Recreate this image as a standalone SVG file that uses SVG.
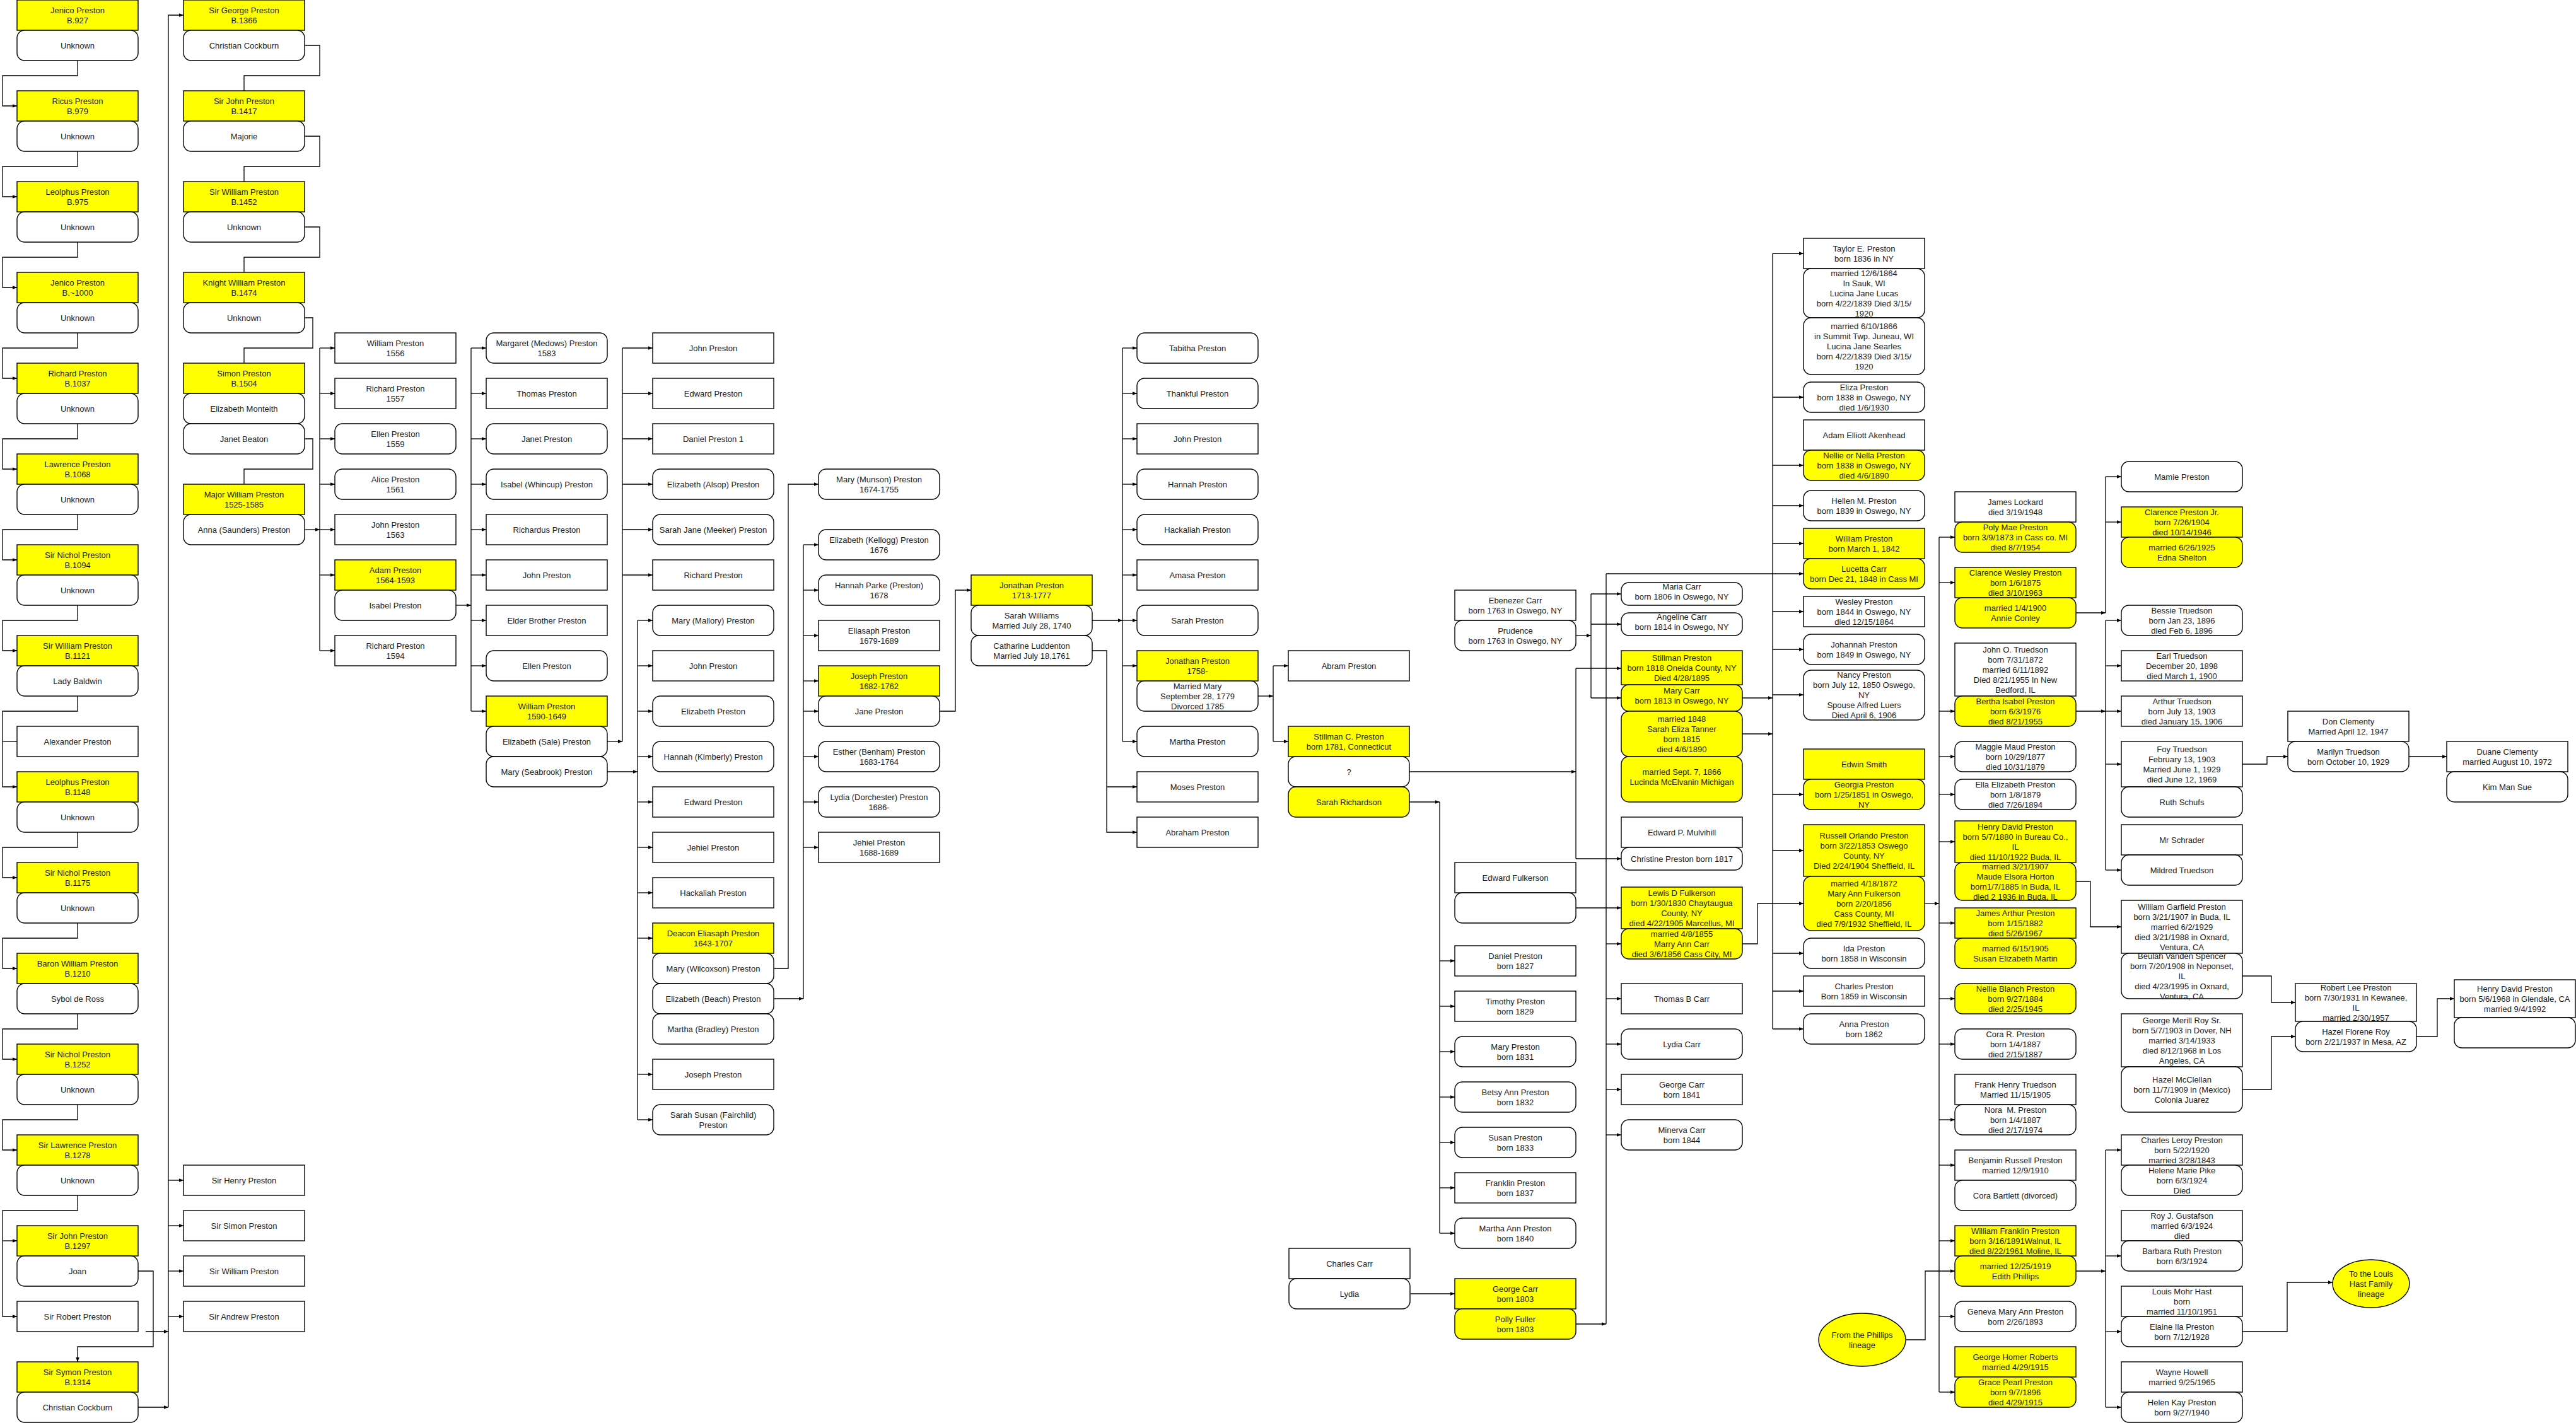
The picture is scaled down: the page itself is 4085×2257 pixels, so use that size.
<svg xmlns="http://www.w3.org/2000/svg" width="4085" height="2257" viewBox="0 0 4085 2257">
<defs>
<marker id="ah" viewBox="0 0 10 10" refX="10" refY="5" markerWidth="7" markerHeight="7" markerUnits="userSpaceOnUse" orient="auto"><path d="M0,1 L10,5 L0,9 z" fill="#000"/></marker>
<style>
.y,.w{stroke:#000;stroke-width:1.4}
.y{fill:#ffff00}
.w{fill:#fff}
text{font-family:"Liberation Sans",Arial,sans-serif;font-size:13px;fill:#1a1a1a;text-anchor:middle}
.c{fill:none;stroke:#000;stroke-width:1.3;marker-end:url(#ah)}
.l{fill:none;stroke:#000;stroke-width:1.3}
</style>
</defs>
<rect x="0" y="0" width="4085" height="2257" fill="#fff"/>

<g id="connectors">
<path class="c" d="M123,96 V120 H4 V168 H27"/>
<path class="c" d="M123,240 V264 H4 V312 H27"/>
<path class="c" d="M123,384 V408 H4 V456 H27"/>
<path class="c" d="M123,528 V552 H4 V600 H27"/>
<path class="c" d="M123,672 V696 H4 V744 H27"/>
<path class="c" d="M123,816 V840 H4 V888 H27"/>
<path class="c" d="M123,960 V984 H4 V1032 H27"/>
<path class="c" d="M123,1104 V1128 H4 V1248 H27"/>
<path class="l" d="M4,1176 H27"/>
<path class="c" d="M123,1320 V1344 H4 V1392 H27"/>
<path class="c" d="M123,1464 V1488 H4 V1536 H27"/>
<path class="c" d="M123,1608 V1632 H4 V1680 H27"/>
<path class="c" d="M123,1752 V1776 H4 V1824 H27"/>
<path class="c" d="M123,1896 V1920 H4 V2088 H27"/>
<path class="c" d="M4,1968 H27"/>
<path class="c" d="M219,2016 H243 V2136 H123 V2160"/>
<path class="c" d="M231,2112 H267"/>
<path class="c" d="M219,2232 H267"/>
<path class="c" d="M267,2232 V24 H291"/>
<path class="c" d="M267,1872 H291"/>
<path class="c" d="M267,1944 H291"/>
<path class="c" d="M267,2016 H291"/>
<path class="c" d="M267,2088 H291"/>
<path class="l" d="M483,72 H507 V120 H387 V144"/>
<path class="l" d="M483,216 H507 V264 H387 V288"/>
<path class="l" d="M483,360 H507 V408 H387 V432"/>
<path class="l" d="M483,504 H496 V552 H387 V576"/>
<path class="l" d="M483,696 H496 V744 H387 V768"/>
<path class="c" d="M483,840 H507"/>
<path class="l" d="M507,552 V1032"/>
<path class="c" d="M507,552 H531"/><path class="c" d="M507,624 H531"/><path class="c" d="M507,696 H531"/><path class="c" d="M507,768 H531"/><path class="c" d="M507,840 H531"/><path class="c" d="M507,912 H531"/><path class="c" d="M507,1032 H531"/>
<path class="c" d="M723,960 H747"/>
<path class="l" d="M747,552 V1128"/>
<path class="c" d="M747,552 H771"/><path class="c" d="M747,624 H771"/><path class="c" d="M747,696 H771"/><path class="c" d="M747,768 H771"/><path class="c" d="M747,840 H771"/><path class="c" d="M747,912 H771"/><path class="c" d="M747,984 H771"/><path class="c" d="M747,1056 H771"/><path class="c" d="M747,1128 H771"/>
<path class="c" d="M963,1176 H987"/>
<path class="l" d="M987,552 V1176"/>
<path class="c" d="M987,552 H1035"/><path class="c" d="M987,624 H1035"/><path class="c" d="M987,696 H1035"/><path class="c" d="M987,768 H1035"/><path class="c" d="M987,840 H1035"/><path class="c" d="M987,912 H1035"/>
<path class="c" d="M963,1224 H1011"/>
<path class="l" d="M1011,984 V1776"/>
<path class="c" d="M1011,984 H1035"/><path class="c" d="M1011,1056 H1035"/><path class="c" d="M1011,1128 H1035"/><path class="c" d="M1011,1200 H1035"/><path class="c" d="M1011,1272 H1035"/><path class="c" d="M1011,1344 H1035"/><path class="c" d="M1011,1416 H1035"/><path class="c" d="M1011,1488 H1035"/><path class="c" d="M1011,1704 H1035"/><path class="c" d="M1011,1776 H1035"/>
<path class="c" d="M1227,1536 H1250 V768 H1298"/>
<path class="c" d="M1227,1584 H1274"/>
<path class="l" d="M1274,864 V1584"/>
<path class="c" d="M1274,864 H1298"/><path class="c" d="M1274,936 H1298"/><path class="c" d="M1274,1008 H1298"/><path class="c" d="M1274,1080 H1298"/><path class="c" d="M1274,1128 H1298"/><path class="c" d="M1274,1200 H1298"/><path class="c" d="M1274,1272 H1298"/><path class="c" d="M1274,1344 H1298"/>
<path class="c" d="M1490,1128 H1515 V936 H1540"/>
<path class="c" d="M1732,984 H1780"/>
<path class="l" d="M1780,552 V1176"/>
<path class="c" d="M1780,552 H1803"/><path class="c" d="M1780,624 H1803"/><path class="c" d="M1780,696 H1803"/><path class="c" d="M1780,768 H1803"/><path class="c" d="M1780,840 H1803"/><path class="c" d="M1780,912 H1803"/><path class="c" d="M1780,984 H1803"/><path class="c" d="M1780,1056 H1803"/><path class="c" d="M1780,1176 H1803"/>
<path class="c" d="M1732,1032 H1755 V1320 H1803"/>
<path class="c" d="M1755,1248 H1803"/>
<path class="c" d="M1995,1104 H2019"/>
<path class="l" d="M2019,1056 V1176"/>
<path class="c" d="M2019,1056 H2043"/><path class="c" d="M2019,1176 H2043"/>
<path class="c" d="M2235,1224 H2499"/>
<path class="l" d="M2499,1060 V1362"/>
<path class="c" d="M2499,1060 H2571"/><path class="c" d="M2499,1362 H2571"/>
<path class="c" d="M2235,1272 H2283"/>
<path class="l" d="M2283,1272 V1956"/>
<path class="c" d="M2283,1524 H2307"/><path class="c" d="M2283,1596 H2307"/><path class="c" d="M2283,1668 H2307"/><path class="c" d="M2283,1740 H2307"/><path class="c" d="M2283,1812 H2307"/><path class="c" d="M2283,1884 H2307"/><path class="c" d="M2283,1956 H2307"/>
<path class="c" d="M2237,2052 H2307"/>
<path class="c" d="M2499,1008 H2523"/>
<path class="l" d="M2523,942 V1107"/>
<path class="c" d="M2523,942 H2571"/><path class="c" d="M2523,990 H2571"/><path class="c" d="M2523,1107 H2571"/>
<path class="c" d="M2499,1440 H2571"/>
<path class="c" d="M2499,2100 H2547"/>
<path class="l" d="M2547,910 V2100"/>
<path class="c" d="M2547,910 H2860"/>
<path class="c" d="M2547,1497 H2571"/><path class="c" d="M2547,1584 H2571"/><path class="c" d="M2547,1656 H2571"/><path class="c" d="M2547,1728 H2571"/><path class="c" d="M2547,1800 H2571"/>
<path class="c" d="M2763,1107 H2811"/>
<path class="c" d="M2763,1164 H2811"/>
<path class="l" d="M2811,402 V1632"/>
<path class="c" d="M2811,402 H2860"/><path class="c" d="M2811,630 H2860"/><path class="c" d="M2811,738 H2860"/><path class="c" d="M2811,802 H2860"/><path class="c" d="M2811,862 H2860"/><path class="c" d="M2811,970 H2860"/><path class="c" d="M2811,1030 H2860"/><path class="c" d="M2811,1102 H2860"/><path class="c" d="M2811,1260 H2860"/><path class="c" d="M2811,1349 H2860"/><path class="c" d="M2811,1512 H2860"/><path class="c" d="M2811,1572 H2860"/><path class="c" d="M2811,1632 H2860"/>
<path class="c" d="M2763,1497 H2787 V1433 H2860"/>
<path class="c" d="M3052,1433 H3075"/>
<path class="l" d="M3075,852 V2208"/>
<path class="c" d="M3075,852 H3100"/><path class="c" d="M3075,924 H3100"/><path class="c" d="M3075,1128 H3100"/><path class="c" d="M3075,1200 H3100"/><path class="c" d="M3075,1260 H3100"/><path class="c" d="M3075,1335 H3100"/><path class="c" d="M3075,1464 H3100"/><path class="c" d="M3075,1584 H3100"/><path class="c" d="M3075,1656 H3100"/><path class="c" d="M3075,1776 H3100"/><path class="c" d="M3075,1848 H3100"/><path class="c" d="M3075,1968 H3100"/><path class="c" d="M3075,2088 H3100"/><path class="c" d="M3075,2208 H3100"/>
<path class="c" d="M3022,2125 H3053 V2016 H3100"/>
<path class="c" d="M3292,972 H3339"/>
<path class="l" d="M3339,756 V972"/>
<path class="c" d="M3339,756 H3364"/><path class="c" d="M3339,828 H3364"/>
<path class="c" d="M3292,1128 H3339"/>
<path class="l" d="M3339,984 V1380"/>
<path class="c" d="M3339,984 H3364"/><path class="c" d="M3339,1056 H3364"/><path class="c" d="M3339,1128 H3364"/><path class="c" d="M3339,1212 H3364"/><path class="c" d="M3339,1380 H3364"/>
<path class="c" d="M3292,1398 H3315 V1470 H3364"/>
<path class="c" d="M3292,2016 H3339"/>
<path class="l" d="M3339,1824 V2232"/>
<path class="c" d="M3339,1824 H3364"/><path class="c" d="M3339,1992 H3364"/><path class="c" d="M3339,2112 H3364"/><path class="c" d="M3339,2232 H3364"/>
<path class="c" d="M3556,1212 H3595 V1200 H3628"/>
<path class="c" d="M3556,1548 H3602 V1590 H3640"/>
<path class="c" d="M3556,1728 H3602 V1644 H3640"/>
<path class="c" d="M3556,2112 H3627 V2034 H3699"/>
<path class="c" d="M3820,1200 H3880"/>
<path class="c" d="M3832,1644 H3865 V1584 H3892"/>
</g>

<g id="jenico927"><rect class="y" x="27" y="0" width="192" height="48"/><text x="123" y="20.5">Jenico Preston<tspan x="123" dy="16">B.927</tspan></text></g>
<g id="jenico927-sp"><rect class="w" x="27" y="48" width="192" height="48" rx="12"/><text x="123" y="76.5">Unknown</text></g>
<g id="ricus979"><rect class="y" x="27" y="144" width="192" height="48"/><text x="123" y="164.5">Ricus Preston<tspan x="123" dy="16">B.979</tspan></text></g>
<g id="ricus979-sp"><rect class="w" x="27" y="192" width="192" height="48" rx="12"/><text x="123" y="220.5">Unknown</text></g>
<g id="leolphus975"><rect class="y" x="27" y="288" width="192" height="48"/><text x="123" y="308.5">Leolphus Preston<tspan x="123" dy="16">B.975</tspan></text></g>
<g id="leolphus975-sp"><rect class="w" x="27" y="336" width="192" height="48" rx="12"/><text x="123" y="364.5">Unknown</text></g>
<g id="jenico1000"><rect class="y" x="27" y="432" width="192" height="48"/><text x="123" y="452.5">Jenico Preston<tspan x="123" dy="16">B.~1000</tspan></text></g>
<g id="jenico1000-sp"><rect class="w" x="27" y="480" width="192" height="48" rx="12"/><text x="123" y="508.5">Unknown</text></g>
<g id="richard1037"><rect class="y" x="27" y="576" width="192" height="48"/><text x="123" y="596.5">Richard Preston<tspan x="123" dy="16">B.1037</tspan></text></g>
<g id="richard1037-sp"><rect class="w" x="27" y="624" width="192" height="48" rx="12"/><text x="123" y="652.5">Unknown</text></g>
<g id="lawrence1068"><rect class="y" x="27" y="720" width="192" height="48"/><text x="123" y="740.5">Lawrence Preston<tspan x="123" dy="16">B.1068</tspan></text></g>
<g id="lawrence1068-sp"><rect class="w" x="27" y="768" width="192" height="48" rx="12"/><text x="123" y="796.5">Unknown</text></g>
<g id="nichol1094"><rect class="y" x="27" y="864" width="192" height="48"/><text x="123" y="884.5">Sir Nichol Preston<tspan x="123" dy="16">B.1094</tspan></text></g>
<g id="nichol1094-sp"><rect class="w" x="27" y="912" width="192" height="48" rx="12"/><text x="123" y="940.5">Unknown</text></g>
<g id="william1121"><rect class="y" x="27" y="1008" width="192" height="48"/><text x="123" y="1028.5">Sir William Preston<tspan x="123" dy="16">B.1121</tspan></text></g>
<g id="william1121-sp"><rect class="w" x="27" y="1056" width="192" height="48" rx="12"/><text x="123" y="1084.5">Lady Baldwin</text></g>
<g id="alexander"><rect class="w" x="27" y="1152" width="192" height="48"/><text x="123" y="1180.5">Alexander Preston</text></g>
<g id="leolphus1148"><rect class="y" x="27" y="1224" width="192" height="48"/><text x="123" y="1244.5">Leolphus Preston<tspan x="123" dy="16">B.1148</tspan></text></g>
<g id="leolphus1148-sp"><rect class="w" x="27" y="1272" width="192" height="48" rx="12"/><text x="123" y="1300.5">Unknown</text></g>
<g id="nichol1175"><rect class="y" x="27" y="1368" width="192" height="48"/><text x="123" y="1388.5">Sir Nichol Preston<tspan x="123" dy="16">B.1175</tspan></text></g>
<g id="nichol1175-sp"><rect class="w" x="27" y="1416" width="192" height="48" rx="12"/><text x="123" y="1444.5">Unknown</text></g>
<g id="baron1210"><rect class="y" x="27" y="1512" width="192" height="48"/><text x="123" y="1532.5">Baron William Preston<tspan x="123" dy="16">B.1210</tspan></text></g>
<g id="baron1210-sp"><rect class="w" x="27" y="1560" width="192" height="48" rx="12"/><text x="123" y="1588.5">Sybol de Ross</text></g>
<g id="nichol1252"><rect class="y" x="27" y="1656" width="192" height="48"/><text x="123" y="1676.5">Sir Nichol Preston<tspan x="123" dy="16">B.1252</tspan></text></g>
<g id="nichol1252-sp"><rect class="w" x="27" y="1704" width="192" height="48" rx="12"/><text x="123" y="1732.5">Unknown</text></g>
<g id="lawrence1278"><rect class="y" x="27" y="1800" width="192" height="48"/><text x="123" y="1820.5">Sir Lawrence Preston<tspan x="123" dy="16">B.1278</tspan></text></g>
<g id="lawrence1278-sp"><rect class="w" x="27" y="1848" width="192" height="48" rx="12"/><text x="123" y="1876.5">Unknown</text></g>
<g id="john1297"><rect class="y" x="27" y="1944" width="192" height="48"/><text x="123" y="1964.5">Sir John Preston<tspan x="123" dy="16">B.1297</tspan></text></g>
<g id="john1297-sp"><rect class="w" x="27" y="1992" width="192" height="48" rx="12"/><text x="123" y="2020.5">Joan</text></g>
<g id="robert"><rect class="w" x="27" y="2064" width="192" height="48"/><text x="123" y="2092.5">Sir Robert Preston</text></g>
<g id="symon1314"><rect class="y" x="27" y="2160" width="192" height="48"/><text x="123" y="2180.5">Sir Symon Preston<tspan x="123" dy="16">B.1314</tspan></text></g>
<g id="symon1314-sp"><rect class="w" x="27" y="2208" width="192" height="48" rx="12"/><text x="123" y="2236.5">Christian Cockburn</text></g>

<g id="george1366"><rect class="y" x="291" y="0" width="192" height="48"/><text x="387" y="20.5">Sir George Preston<tspan x="387" dy="16">B.1366</tspan></text></g>
<g id="george1366-sp"><rect class="w" x="291" y="48" width="192" height="48" rx="12"/><text x="387" y="76.5">Christian Cockburn</text></g>
<g id="john1417"><rect class="y" x="291" y="144" width="192" height="48"/><text x="387" y="164.5">Sir John Preston<tspan x="387" dy="16">B.1417</tspan></text></g>
<g id="john1417-sp"><rect class="w" x="291" y="192" width="192" height="48" rx="12"/><text x="387" y="220.5">Majorie</text></g>
<g id="william1452"><rect class="y" x="291" y="288" width="192" height="48"/><text x="387" y="308.5">Sir William Preston<tspan x="387" dy="16">B.1452</tspan></text></g>
<g id="william1452-sp"><rect class="w" x="291" y="336" width="192" height="48" rx="12"/><text x="387" y="364.5">Unknown</text></g>
<g id="knight1474"><rect class="y" x="291" y="432" width="192" height="48"/><text x="387" y="452.5">Knight William Preston<tspan x="387" dy="16">B.1474</tspan></text></g>
<g id="knight1474-sp"><rect class="w" x="291" y="480" width="192" height="48" rx="12"/><text x="387" y="508.5">Unknown</text></g>
<g id="simon1504"><rect class="y" x="291" y="576" width="192" height="48"/><text x="387" y="596.5">Simon Preston<tspan x="387" dy="16">B.1504</tspan></text></g>
<g id="simon1504-sp1"><rect class="w" x="291" y="624" width="192" height="48" rx="12"/><text x="387" y="652.5">Elizabeth Monteith</text></g>
<g id="simon1504-sp2"><rect class="w" x="291" y="672" width="192" height="48" rx="12"/><text x="387" y="700.5">Janet Beaton</text></g>
<g id="major1525"><rect class="y" x="291" y="768" width="192" height="48"/><text x="387" y="788.5">Major William Preston<tspan x="387" dy="16">1525-1585</tspan></text></g>
<g id="major1525-sp"><rect class="w" x="291" y="816" width="192" height="48" rx="12"/><text x="387" y="844.5">Anna (Saunders) Preston</text></g>
<g id="henry"><rect class="w" x="291" y="1848" width="192" height="48"/><text x="387" y="1876.5">Sir Henry Preston</text></g>
<g id="simon"><rect class="w" x="291" y="1920" width="192" height="48"/><text x="387" y="1948.5">Sir Simon Preston</text></g>
<g id="williamS"><rect class="w" x="291" y="1992" width="192" height="48"/><text x="387" y="2020.5">Sir William Preston</text></g>
<g id="andrew"><rect class="w" x="291" y="2064" width="192" height="48"/><text x="387" y="2092.5">Sir Andrew Preston</text></g>

<g id="william1556"><rect class="w" x="531" y="528" width="192" height="48"/><text x="627" y="548.5">William Preston<tspan x="627" dy="16">1556</tspan></text></g>
<g id="richard1557"><rect class="w" x="531" y="600" width="192" height="48"/><text x="627" y="620.5">Richard Preston<tspan x="627" dy="16">1557</tspan></text></g>
<g id="ellen1559"><rect class="w" x="531" y="672" width="192" height="48" rx="12"/><text x="627" y="692.5">Ellen Preston<tspan x="627" dy="16">1559</tspan></text></g>
<g id="alice1561"><rect class="w" x="531" y="744" width="192" height="48" rx="12"/><text x="627" y="764.5">Alice Preston<tspan x="627" dy="16">1561</tspan></text></g>
<g id="john1563"><rect class="w" x="531" y="816" width="192" height="48"/><text x="627" y="836.5">John Preston<tspan x="627" dy="16">1563</tspan></text></g>
<g id="adam1564"><rect class="y" x="531" y="888" width="192" height="48"/><text x="627" y="908.5">Adam Preston<tspan x="627" dy="16">1564-1593</tspan></text></g>
<g id="adam1564-sp"><rect class="w" x="531" y="936" width="192" height="48" rx="12"/><text x="627" y="964.5">Isabel Preston</text></g>
<g id="richard1594"><rect class="w" x="531" y="1008" width="192" height="48"/><text x="627" y="1028.5">Richard Preston<tspan x="627" dy="16">1594</tspan></text></g>

<g id="margaret1583"><rect class="w" x="771" y="528" width="192" height="48" rx="12"/><text x="867" y="548.5">Margaret (Medows) Preston<tspan x="867" dy="16">1583</tspan></text></g>
<g id="thomas3"><rect class="w" x="771" y="600" width="192" height="48"/><text x="867" y="628.5">Thomas Preston</text></g>
<g id="janet3"><rect class="w" x="771" y="672" width="192" height="48" rx="12"/><text x="867" y="700.5">Janet Preston</text></g>
<g id="isabelw"><rect class="w" x="771" y="744" width="192" height="48" rx="12"/><text x="867" y="772.5">Isabel (Whincup) Preston</text></g>
<g id="richardus"><rect class="w" x="771" y="816" width="192" height="48"/><text x="867" y="844.5">Richardus Preston</text></g>
<g id="john3"><rect class="w" x="771" y="888" width="192" height="48"/><text x="867" y="916.5">John Preston</text></g>
<g id="elder"><rect class="w" x="771" y="960" width="192" height="48"/><text x="867" y="988.5">Elder Brother Preston</text></g>
<g id="ellen3"><rect class="w" x="771" y="1032" width="192" height="48" rx="12"/><text x="867" y="1060.5">Ellen Preston</text></g>
<g id="william1590"><rect class="y" x="771" y="1104" width="192" height="48"/><text x="867" y="1124.5">William Preston<tspan x="867" dy="16">1590-1649</tspan></text></g>
<g id="william1590-sp1"><rect class="w" x="771" y="1152" width="192" height="48" rx="12"/><text x="867" y="1180.5">Elizabeth (Sale) Preston</text></g>
<g id="william1590-sp2"><rect class="w" x="771" y="1200" width="192" height="48" rx="12"/><text x="867" y="1228.5">Mary (Seabrook) Preston</text></g>

<g id="john4a"><rect class="w" x="1035" y="528" width="192" height="48"/><text x="1131" y="556.5">John Preston</text></g>
<g id="edward4a"><rect class="w" x="1035" y="600" width="192" height="48"/><text x="1131" y="628.5">Edward Preston</text></g>
<g id="daniel4"><rect class="w" x="1035" y="672" width="192" height="48"/><text x="1131" y="700.5">Daniel Preston 1</text></g>
<g id="elizabeth-alsop"><rect class="w" x="1035" y="744" width="192" height="48" rx="12"/><text x="1131" y="772.5">Elizabeth (Alsop) Preston</text></g>
<g id="sarah-meeker"><rect class="w" x="1035" y="816" width="192" height="48" rx="12"/><text x="1131" y="844.5">Sarah Jane (Meeker) Preston</text></g>
<g id="richard4"><rect class="w" x="1035" y="888" width="192" height="48"/><text x="1131" y="916.5">Richard Preston</text></g>
<g id="mary-mallory"><rect class="w" x="1035" y="960" width="192" height="48" rx="12"/><text x="1131" y="988.5">Mary (Mallory) Preston</text></g>
<g id="john4b"><rect class="w" x="1035" y="1032" width="192" height="48"/><text x="1131" y="1060.5">John Preston</text></g>
<g id="elizabeth4"><rect class="w" x="1035" y="1104" width="192" height="48" rx="12"/><text x="1131" y="1132.5">Elizabeth Preston</text></g>
<g id="hannah-kimberly"><rect class="w" x="1035" y="1176" width="192" height="48" rx="12"/><text x="1131" y="1204.5">Hannah (Kimberly) Preston</text></g>
<g id="edward4b"><rect class="w" x="1035" y="1248" width="192" height="48"/><text x="1131" y="1276.5">Edward Preston</text></g>
<g id="jehiel4"><rect class="w" x="1035" y="1320" width="192" height="48"/><text x="1131" y="1348.5">Jehiel Preston</text></g>
<g id="hackaliah4"><rect class="w" x="1035" y="1392" width="192" height="48"/><text x="1131" y="1420.5">Hackaliah Preston</text></g>
<g id="deacon1643"><rect class="y" x="1035" y="1464" width="192" height="48"/><text x="1131" y="1484.5">Deacon Eliasaph Preston<tspan x="1131" dy="16">1643-1707</tspan></text></g>
<g id="deacon-sp1"><rect class="w" x="1035" y="1512" width="192" height="48" rx="12"/><text x="1131" y="1540.5">Mary (Wilcoxson) Preston</text></g>
<g id="deacon-sp2"><rect class="w" x="1035" y="1560" width="192" height="48" rx="12"/><text x="1131" y="1588.5">Elizabeth (Beach) Preston</text></g>
<g id="deacon-sp3"><rect class="w" x="1035" y="1608" width="192" height="48" rx="12"/><text x="1131" y="1636.5">Martha (Bradley) Preston</text></g>
<g id="joseph4"><rect class="w" x="1035" y="1680" width="192" height="48"/><text x="1131" y="1708.5">Joseph Preston</text></g>
<g id="sarah-fairchild"><rect class="w" x="1035" y="1752" width="192" height="48" rx="12"/><text x="1131" y="1772.5">Sarah Susan (Fairchild)<tspan x="1131" dy="16">Preston</tspan></text></g>

<g id="mary-munson"><rect class="w" x="1298" y="744" width="192" height="48" rx="12"/><text x="1394" y="764.5">Mary (Munson) Preston<tspan x="1394" dy="16">1674-1755</tspan></text></g>
<g id="elizabeth-kellogg"><rect class="w" x="1298" y="840" width="192" height="48" rx="12"/><text x="1394" y="860.5">Elizabeth (Kellogg) Preston<tspan x="1394" dy="16">1676</tspan></text></g>
<g id="hannah-parke"><rect class="w" x="1298" y="912" width="192" height="48" rx="12"/><text x="1394" y="932.5">Hannah Parke (Preston)<tspan x="1394" dy="16">1678</tspan></text></g>
<g id="eliasaph1679"><rect class="w" x="1298" y="984" width="192" height="48"/><text x="1394" y="1004.5">Eliasaph Preston<tspan x="1394" dy="16">1679-1689</tspan></text></g>
<g id="joseph1682"><rect class="y" x="1298" y="1056" width="192" height="48"/><text x="1394" y="1076.5">Joseph Preston<tspan x="1394" dy="16">1682-1762</tspan></text></g>
<g id="joseph1682-sp"><rect class="w" x="1298" y="1104" width="192" height="48" rx="12"/><text x="1394" y="1132.5">Jane Preston</text></g>
<g id="esther-benham"><rect class="w" x="1298" y="1176" width="192" height="48" rx="12"/><text x="1394" y="1196.5">Esther (Benham) Preston<tspan x="1394" dy="16">1683-1764</tspan></text></g>
<g id="lydia-dorchester"><rect class="w" x="1298" y="1248" width="192" height="48" rx="12"/><text x="1394" y="1268.5">Lydia (Dorchester) Preston<tspan x="1394" dy="16">1686-</tspan></text></g>
<g id="jehiel1688"><rect class="w" x="1298" y="1320" width="192" height="48"/><text x="1394" y="1340.5">Jehiel Preston<tspan x="1394" dy="16">1688-1689</tspan></text></g>

<g id="jonathan1713"><rect class="y" x="1540" y="912" width="192" height="48"/><text x="1636" y="932.5">Jonathan Preston<tspan x="1636" dy="16">1713-1777</tspan></text></g>
<g id="jonathan1713-sp1"><rect class="w" x="1540" y="960" width="192" height="48" rx="12"/><text x="1636" y="980.5">Sarah Williams<tspan x="1636" dy="16">Married July 28, 1740</tspan></text></g>
<g id="jonathan1713-sp2"><rect class="w" x="1540" y="1008" width="192" height="48" rx="12"/><text x="1636" y="1028.5">Catharine Luddenton<tspan x="1636" dy="16">Married July 18,1761</tspan></text></g>

<g id="tabitha"><rect class="w" x="1803" y="528" width="192" height="48" rx="12"/><text x="1899" y="556.5">Tabitha Preston</text></g>
<g id="thankful"><rect class="w" x="1803" y="600" width="192" height="48" rx="12"/><text x="1899" y="628.5">Thankful Preston</text></g>
<g id="john7"><rect class="w" x="1803" y="672" width="192" height="48"/><text x="1899" y="700.5">John Preston</text></g>
<g id="hannah7"><rect class="w" x="1803" y="744" width="192" height="48" rx="12"/><text x="1899" y="772.5">Hannah Preston</text></g>
<g id="hackaliah7"><rect class="w" x="1803" y="816" width="192" height="48" rx="12"/><text x="1899" y="844.5">Hackaliah Preston</text></g>
<g id="amasa"><rect class="w" x="1803" y="888" width="192" height="48"/><text x="1899" y="916.5">Amasa Preston</text></g>
<g id="sarah7"><rect class="w" x="1803" y="960" width="192" height="48" rx="12"/><text x="1899" y="988.5">Sarah Preston</text></g>
<g id="jonathan1758"><rect class="y" x="1803" y="1032" width="192" height="48"/><text x="1899" y="1052.5">Jonathan Preston<tspan x="1899" dy="16">1758-</tspan></text></g>
<g id="jonathan1758-sp"><rect class="w" x="1803" y="1080" width="192" height="48" rx="12"/><text x="1899" y="1092.5">Married Mary<tspan x="1899" dy="16">September 28, 1779</tspan><tspan x="1899" dy="16">Divorced 1785</tspan></text></g>
<g id="martha7"><rect class="w" x="1803" y="1152" width="192" height="48" rx="12"/><text x="1899" y="1180.5">Martha Preston</text></g>
<g id="moses"><rect class="w" x="1803" y="1224" width="192" height="48"/><text x="1899" y="1252.5">Moses Preston</text></g>
<g id="abraham"><rect class="w" x="1803" y="1296" width="192" height="48"/><text x="1899" y="1324.5">Abraham Preston</text></g>

<g id="abram"><rect class="w" x="2043" y="1032" width="192" height="48"/><text x="2139" y="1060.5">Abram Preston</text></g>
<g id="stillmanC"><rect class="y" x="2043" y="1152" width="192" height="48"/><text x="2139" y="1172.5">Stillman C. Preston<tspan x="2139" dy="16">born 1781, Connecticut</tspan></text></g>
<g id="stillmanC-sp1"><rect class="w" x="2043" y="1200" width="192" height="48" rx="12"/><text x="2139" y="1228.5">?</text></g>
<g id="stillmanC-sp2"><rect class="y" x="2043" y="1248" width="192" height="48" rx="12"/><text x="2139" y="1276.5">Sarah Richardson</text></g>
<g id="charlescarr"><rect class="w" x="2044" y="1980" width="192" height="48"/><text x="2140" y="2008.5">Charles Carr</text></g>
<g id="charlescarr-sp"><rect class="w" x="2044" y="2028" width="192" height="48" rx="12"/><text x="2140" y="2056.5">Lydia</text></g>

<g id="ebenezer"><rect class="w" x="2307" y="936" width="192" height="48"/><text x="2403" y="956.5">Ebenezer Carr<tspan x="2403" dy="16">born 1763 in Oswego, NY</tspan></text></g>
<g id="ebenezer-sp"><rect class="w" x="2307" y="984" width="192" height="48" rx="12"/><text x="2403" y="1004.5">Prudence<tspan x="2403" dy="16">born 1763 in Oswego, NY</tspan></text></g>
<g id="edwardf"><rect class="w" x="2307" y="1368" width="192" height="48"/><text x="2403" y="1396.5">Edward Fulkerson</text></g>
<g id="edwardf-sp"><rect class="w" x="2307" y="1416" width="192" height="48" rx="12"/></g>
<g id="daniel1827"><rect class="w" x="2307" y="1500" width="192" height="48"/><text x="2403" y="1520.5">Daniel Preston<tspan x="2403" dy="16">born 1827</tspan></text></g>
<g id="timothy1829"><rect class="w" x="2307" y="1572" width="192" height="48"/><text x="2403" y="1592.5">Timothy Preston<tspan x="2403" dy="16">born 1829</tspan></text></g>
<g id="mary1831"><rect class="w" x="2307" y="1644" width="192" height="48" rx="12"/><text x="2403" y="1664.5">Mary Preston<tspan x="2403" dy="16">born 1831</tspan></text></g>
<g id="betsy1832"><rect class="w" x="2307" y="1716" width="192" height="48" rx="12"/><text x="2403" y="1736.5">Betsy Ann Preston<tspan x="2403" dy="16">born 1832</tspan></text></g>
<g id="susan1833"><rect class="w" x="2307" y="1788" width="192" height="48" rx="12"/><text x="2403" y="1808.5">Susan Preston<tspan x="2403" dy="16">born 1833</tspan></text></g>
<g id="franklin1837"><rect class="w" x="2307" y="1860" width="192" height="48"/><text x="2403" y="1880.5">Franklin Preston<tspan x="2403" dy="16">born 1837</tspan></text></g>
<g id="martha1840"><rect class="w" x="2307" y="1932" width="192" height="48" rx="12"/><text x="2403" y="1952.5">Martha Ann Preston<tspan x="2403" dy="16">born 1840</tspan></text></g>
<g id="georgecarr1803"><rect class="y" x="2307" y="2028" width="192" height="48"/><text x="2403" y="2048.5">George Carr<tspan x="2403" dy="16">born 1803</tspan></text></g>
<g id="georgecarr1803-sp"><rect class="y" x="2307" y="2076" width="192" height="48" rx="12"/><text x="2403" y="2096.5">Polly Fuller<tspan x="2403" dy="16">born 1803</tspan></text></g>

<g id="maria"><rect class="w" x="2571" y="924" width="192" height="36" rx="12"/><text x="2667" y="934.5">Maria Carr<tspan x="2667" dy="16">born 1806 in Oswego, NY</tspan></text></g>
<g id="angeline"><rect class="w" x="2571" y="972" width="192" height="36" rx="12"/><text x="2667" y="982.5">Angeline Carr<tspan x="2667" dy="16">born 1814 in Oswego, NY</tspan></text></g>
<g id="stillman1818"><rect class="y" x="2571" y="1032" width="192" height="54"/><text x="2667" y="1047.5">Stillman Preston<tspan x="2667" dy="16">born 1818 Oneida County, NY</tspan><tspan x="2667" dy="16">Died 4/28/1895</tspan></text></g>
<g id="stillman1818-sp1"><rect class="y" x="2571" y="1086" width="192" height="42" rx="12"/><text x="2667" y="1099.5">Mary Carr<tspan x="2667" dy="16">born 1813 in Oswego, NY</tspan></text></g>
<g id="stillman1818-sp2"><rect class="y" x="2571" y="1128" width="192" height="72" rx="12"/><text x="2667" y="1144.5">married 1848<tspan x="2667" dy="16">Sarah Eliza Tanner</tspan><tspan x="2667" dy="16">born 1815</tspan><tspan x="2667" dy="16">died 4/6/1890</tspan></text></g>
<g id="stillman1818-sp3"><rect class="y" x="2571" y="1200" width="192" height="72" rx="12"/><text x="2667" y="1228.5">married Sept. 7, 1866<tspan x="2667" dy="16">Lucinda McElvanin Michigan</tspan></text></g>
<g id="mulvihill"><rect class="w" x="2571" y="1296" width="192" height="48"/><text x="2667" y="1324.5">Edward P. Mulvihill</text></g>
<g id="christine"><rect class="w" x="2571" y="1344" width="192" height="36" rx="12"/><text x="2667" y="1366.5">Christine Preston born 1817</text></g>
<g id="lewis"><rect class="y" x="2571" y="1407" width="192" height="66"/><text x="2667" y="1420.5">Lewis D Fulkerson<tspan x="2667" dy="16">born 1/30/1830 Chaytaugua</tspan><tspan x="2667" dy="16">County, NY</tspan><tspan x="2667" dy="16">died 4/22/1905 Marcellus, MI</tspan></text></g>
<g id="lewis-sp"><rect class="y" x="2571" y="1473" width="192" height="48" rx="12"/><text x="2667" y="1485.5">married 4/8/1855<tspan x="2667" dy="16">Marry Ann Carr</tspan><tspan x="2667" dy="16">died 3/6/1856 Cass City, MI</tspan></text></g>
<g id="thomascarr"><rect class="w" x="2571" y="1560" width="192" height="48"/><text x="2667" y="1588.5">Thomas B Carr</text></g>
<g id="lydiacarr"><rect class="w" x="2571" y="1632" width="192" height="48" rx="12"/><text x="2667" y="1660.5">Lydia Carr</text></g>
<g id="georgecarr1841"><rect class="w" x="2571" y="1704" width="192" height="48"/><text x="2667" y="1724.5">George Carr<tspan x="2667" dy="16">born 1841</tspan></text></g>
<g id="minerva"><rect class="w" x="2571" y="1776" width="192" height="48" rx="12"/><text x="2667" y="1796.5">Minerva Carr<tspan x="2667" dy="16">born 1844</tspan></text></g>

<g id="taylor"><rect class="w" x="2860" y="378" width="192" height="48"/><text x="2956" y="398.5">Taylor E. Preston<tspan x="2956" dy="16">born 1836 in NY</tspan></text></g>
<g id="taylor-sp1"><rect class="w" x="2860" y="426" width="192" height="78" rx="12"/><text x="2956" y="437.5">married 12/6/1864<tspan x="2956" dy="16">In Sauk, WI</tspan><tspan x="2956" dy="16">Lucina Jane Lucas</tspan><tspan x="2956" dy="16">born 4/22/1839 Died 3/15/</tspan><tspan x="2956" dy="16">1920</tspan></text></g>
<g id="taylor-sp2"><rect class="w" x="2860" y="504" width="192" height="90" rx="12"/><text x="2956" y="521.5">married 6/10/1866<tspan x="2956" dy="16">in Summit Twp. Juneau, WI</tspan><tspan x="2956" dy="16">Lucina Jane Searles</tspan><tspan x="2956" dy="16">born 4/22/1839 Died 3/15/</tspan><tspan x="2956" dy="16">1920</tspan></text></g>
<g id="eliza"><rect class="w" x="2860" y="606" width="192" height="48" rx="12"/><text x="2956" y="618.5">Eliza Preston<tspan x="2956" dy="16">born 1838 in Oswego, NY</tspan><tspan x="2956" dy="16">died 1/6/1930</tspan></text></g>
<g id="akenhead"><rect class="w" x="2860" y="666" width="192" height="48"/><text x="2956" y="694.5">Adam Elliott Akenhead</text></g>
<g id="nellie"><rect class="y" x="2860" y="714" width="192" height="48" rx="12"/><text x="2956" y="726.5">Nellie or Nella Preston<tspan x="2956" dy="16">born 1838 in Oswego, NY</tspan><tspan x="2956" dy="16">died 4/6/1890</tspan></text></g>
<g id="hellen"><rect class="w" x="2860" y="778" width="192" height="48" rx="12"/><text x="2956" y="798.5">Hellen M. Preston<tspan x="2956" dy="16">born 1839 in Oswego, NY</tspan></text></g>
<g id="william1842"><rect class="y" x="2860" y="838" width="192" height="48"/><text x="2956" y="858.5">William Preston<tspan x="2956" dy="16">born March 1, 1842</tspan></text></g>
<g id="lucetta"><rect class="y" x="2860" y="886" width="192" height="48" rx="12"/><text x="2956" y="906.5">Lucetta Carr<tspan x="2956" dy="16">born Dec 21, 1848 in Cass MI</tspan></text></g>
<g id="wesley"><rect class="w" x="2860" y="946" width="192" height="48"/><text x="2956" y="958.5">Wesley Preston<tspan x="2956" dy="16">born 1844 in Oswego, NY</tspan><tspan x="2956" dy="16">died 12/15/1864</tspan></text></g>
<g id="johannah"><rect class="w" x="2860" y="1006" width="192" height="48" rx="12"/><text x="2956" y="1026.5">Johannah Preston<tspan x="2956" dy="16">born 1849 in Oswego, NY</tspan></text></g>
<g id="nancy"><rect class="w" x="2860" y="1063" width="192" height="79" rx="12"/><text x="2956" y="1075">Nancy Preston<tspan x="2956" dy="16">born July 12, 1850 Oswego,</tspan><tspan x="2956" dy="16">NY</tspan><tspan x="2956" dy="16">Spouse Alfred Luers</tspan><tspan x="2956" dy="16">Died April 6, 1906</tspan></text></g>
<g id="edwin"><rect class="y" x="2860" y="1188" width="192" height="48"/><text x="2956" y="1216.5">Edwin Smith</text></g>
<g id="georgia"><rect class="y" x="2860" y="1236" width="192" height="48" rx="12"/><text x="2956" y="1248.5">Georgia Preston<tspan x="2956" dy="16">born 1/25/1851 in Oswego,</tspan><tspan x="2956" dy="16">NY</tspan></text></g>
<g id="russell"><rect class="y" x="2860" y="1308" width="192" height="82"/><text x="2956" y="1329.5">Russell Orlando Preston<tspan x="2956" dy="16">born 3/22/1853 Oswego</tspan><tspan x="2956" dy="16">County, NY</tspan><tspan x="2956" dy="16">Died 2/24/1904 Sheffield, IL</tspan></text></g>
<g id="russell-sp"><rect class="y" x="2860" y="1390" width="192" height="86" rx="12"/><text x="2956" y="1405.5">married 4/18/1872<tspan x="2956" dy="16">Mary Ann Fulkerson</tspan><tspan x="2956" dy="16">born 2/20/1856</tspan><tspan x="2956" dy="16">Cass County, MI</tspan><tspan x="2956" dy="16">died 7/9/1932 Sheffield, IL</tspan></text></g>
<g id="ida"><rect class="w" x="2860" y="1488" width="192" height="48" rx="12"/><text x="2956" y="1508.5">Ida Preston<tspan x="2956" dy="16">born 1858 in Wisconsin</tspan></text></g>
<g id="charles1859"><rect class="w" x="2860" y="1548" width="192" height="48"/><text x="2956" y="1568.5">Charles Preston<tspan x="2956" dy="16">Born 1859 in Wisconsin</tspan></text></g>
<g id="anna1862"><rect class="w" x="2860" y="1608" width="192" height="48" rx="12"/><text x="2956" y="1628.5">Anna Preston<tspan x="2956" dy="16">born 1862</tspan></text></g>
<g id="phillips"><ellipse class="y" cx="2953" cy="2125" rx="69" ry="42"/><text x="2953" y="2121.5">From the Phillips<tspan x="2953" dy="16">lineage</tspan></text></g>

<g id="lockard"><rect class="w" x="3100" y="780" width="192" height="48"/><text x="3196" y="800.5">James Lockard<tspan x="3196" dy="16">died 3/19/1948</tspan></text></g>
<g id="polymae"><rect class="y" x="3100" y="828" width="192" height="48" rx="12"/><text x="3196" y="840.5">Poly Mae Preston<tspan x="3196" dy="16">born 3/9/1873 in Cass co. MI</tspan><tspan x="3196" dy="16">died 8/7/1954</tspan></text></g>
<g id="clarencew"><rect class="y" x="3100" y="900" width="192" height="48"/><text x="3196" y="912.5">Clarence Wesley Preston<tspan x="3196" dy="16">born 1/6/1875</tspan><tspan x="3196" dy="16">died 3/10/1963</tspan></text></g>
<g id="clarencew-sp"><rect class="y" x="3100" y="948" width="192" height="48" rx="12"/><text x="3196" y="968.5">married 1/4/1900<tspan x="3196" dy="16">Annie Conley</tspan></text></g>
<g id="johntruedson"><rect class="w" x="3100" y="1020" width="192" height="84"/><text x="3196" y="1034.5">John O. Truedson<tspan x="3196" dy="16">born 7/31/1872</tspan><tspan x="3196" dy="16">married 6/11/1892</tspan><tspan x="3196" dy="16">Died 8/21/1955 In New</tspan><tspan x="3196" dy="16">Bedford, IL</tspan></text></g>
<g id="bertha"><rect class="y" x="3100" y="1104" width="192" height="48" rx="12"/><text x="3196" y="1116.5">Bertha Isabel Preston<tspan x="3196" dy="16">born 6/3/1976</tspan><tspan x="3196" dy="16">died 8/21/1955</tspan></text></g>
<g id="maggie"><rect class="w" x="3100" y="1176" width="192" height="48" rx="12"/><text x="3196" y="1188.5">Maggie Maud Preston<tspan x="3196" dy="16">born 10/29/1877</tspan><tspan x="3196" dy="16">died 10/31/1879</tspan></text></g>
<g id="ella"><rect class="w" x="3100" y="1236" width="192" height="48" rx="12"/><text x="3196" y="1248.5">Ella Elizabeth Preston<tspan x="3196" dy="16">born 1/8/1879</tspan><tspan x="3196" dy="16">died 7/26/1894</tspan></text></g>
<g id="henrydavid1880"><rect class="y" x="3100" y="1302" width="192" height="66"/><text x="3196" y="1315.5">Henry David Preston<tspan x="3196" dy="16">born 5/7/1880 in Bureau Co.,</tspan><tspan x="3196" dy="16">IL</tspan><tspan x="3196" dy="16">died 11/10/1922 Buda, IL</tspan></text></g>
<g id="henrydavid1880-sp"><rect class="y" x="3100" y="1368" width="192" height="60" rx="12"/><text x="3196" y="1378.5">married 3/21/1907<tspan x="3196" dy="16">Maude Elsora Horton</tspan><tspan x="3196" dy="16">born1/7/1885 in Buda, IL</tspan><tspan x="3196" dy="16">died 2 1936 in Buda, IL</tspan></text></g>
<g id="jamesarthur"><rect class="y" x="3100" y="1440" width="192" height="48"/><text x="3196" y="1452.5">James Arthur Preston<tspan x="3196" dy="16">born 1/15/1882</tspan><tspan x="3196" dy="16">died 5/26/1967</tspan></text></g>
<g id="jamesarthur-sp"><rect class="y" x="3100" y="1488" width="192" height="48" rx="12"/><text x="3196" y="1508.5">married 6/15/1905<tspan x="3196" dy="16">Susan Elizabeth Martin</tspan></text></g>
<g id="nellieblanch"><rect class="y" x="3100" y="1560" width="192" height="48" rx="12"/><text x="3196" y="1572.5">Nellie Blanch Preston<tspan x="3196" dy="16">born 9/27/1884</tspan><tspan x="3196" dy="16">died 2/25/1945</tspan></text></g>
<g id="corar"><rect class="w" x="3100" y="1632" width="192" height="48" rx="12"/><text x="3196" y="1644.5">Cora R. Preston<tspan x="3196" dy="16">born 1/4/1887</tspan><tspan x="3196" dy="16">died 2/15/1887</tspan></text></g>
<g id="frankhenry"><rect class="w" x="3100" y="1704" width="192" height="48"/><text x="3196" y="1724.5">Frank Henry Truedson<tspan x="3196" dy="16">Married 11/15/1905</tspan></text></g>
<g id="nora"><rect class="w" x="3100" y="1752" width="192" height="48" rx="12"/><text x="3196" y="1764.5" xml:space="preserve">Nora  M. Preston<tspan x="3196" dy="16">born 1/4/1887</tspan><tspan x="3196" dy="16">died 2/17/1974</tspan></text></g>
<g id="benjamin"><rect class="w" x="3100" y="1824" width="192" height="48"/><text x="3196" y="1844.5">Benjamin Russell Preston<tspan x="3196" dy="16">married 12/9/1910</tspan></text></g>
<g id="benjamin-sp"><rect class="w" x="3100" y="1872" width="192" height="48" rx="12"/><text x="3196" y="1900.5">Cora Bartlett (divorced)</text></g>
<g id="williamfranklin"><rect class="y" x="3100" y="1944" width="192" height="48"/><text x="3196" y="1956.5">William Franklin Preston<tspan x="3196" dy="16">born 3/16/1891Walnut, IL</tspan><tspan x="3196" dy="16">died 8/22/1961 Moline, IL</tspan></text></g>
<g id="williamfranklin-sp"><rect class="y" x="3100" y="1992" width="192" height="48" rx="12"/><text x="3196" y="2012.5">married 12/25/1919<tspan x="3196" dy="16">Edith Phillips</tspan></text></g>
<g id="geneva"><rect class="w" x="3100" y="2064" width="192" height="48" rx="12"/><text x="3196" y="2084.5">Geneva Mary Ann Preston<tspan x="3196" dy="16">born 2/26/1893</tspan></text></g>
<g id="georgeroberts"><rect class="y" x="3100" y="2136" width="192" height="48"/><text x="3196" y="2156.5">George Homer Roberts<tspan x="3196" dy="16">married 4/29/1915</tspan></text></g>
<g id="gracepearl"><rect class="y" x="3100" y="2184" width="192" height="48" rx="12"/><text x="3196" y="2196.5">Grace Pearl Preston<tspan x="3196" dy="16">born 9/7/1896</tspan><tspan x="3196" dy="16">died 4/29/1915</tspan></text></g>

<g id="mamie"><rect class="w" x="3364" y="732" width="192" height="48" rx="12"/><text x="3460" y="760.5">Mamie Preston</text></g>
<g id="clarencejr"><rect class="y" x="3364" y="804" width="192" height="48"/><text x="3460" y="816.5">Clarence Preston Jr.<tspan x="3460" dy="16">born 7/26/1904</tspan><tspan x="3460" dy="16">died 10/14/1946</tspan></text></g>
<g id="clarencejr-sp"><rect class="y" x="3364" y="852" width="192" height="48" rx="12"/><text x="3460" y="872.5">married 6/26/1925<tspan x="3460" dy="16">Edna Shelton</tspan></text></g>
<g id="bessie"><rect class="w" x="3364" y="960" width="192" height="48" rx="12"/><text x="3460" y="972.5">Bessie Truedson<tspan x="3460" dy="16">born Jan 23, 1896</tspan><tspan x="3460" dy="16">died Feb 6, 1896</tspan></text></g>
<g id="earl"><rect class="w" x="3364" y="1032" width="192" height="48"/><text x="3460" y="1044.5">Earl Truedson<tspan x="3460" dy="16">December 20, 1898</tspan><tspan x="3460" dy="16">died March 1, 1900</tspan></text></g>
<g id="arthur"><rect class="w" x="3364" y="1104" width="192" height="48"/><text x="3460" y="1116.5">Arthur Truedson<tspan x="3460" dy="16">born July 13, 1903</tspan><tspan x="3460" dy="16">died January 15, 1906</tspan></text></g>
<g id="foy"><rect class="w" x="3364" y="1176" width="192" height="72"/><text x="3460" y="1192.5">Foy Truedson<tspan x="3460" dy="16">February 13, 1903</tspan><tspan x="3460" dy="16">Married June 1, 1929</tspan><tspan x="3460" dy="16">died June 12, 1969</tspan></text></g>
<g id="foy-sp"><rect class="w" x="3364" y="1248" width="192" height="48" rx="12"/><text x="3460" y="1276.5">Ruth Schufs</text></g>
<g id="schrader"><rect class="w" x="3364" y="1308" width="192" height="48"/><text x="3460" y="1336.5">Mr Schrader</text></g>
<g id="mildred"><rect class="w" x="3364" y="1356" width="192" height="48" rx="12"/><text x="3460" y="1384.5">Mildred Truedson</text></g>
<g id="garfield"><rect class="w" x="3364" y="1428" width="192" height="84"/><text x="3460" y="1442.5">William Garfield Preston<tspan x="3460" dy="16">born 3/21/1907 in Buda, IL</tspan><tspan x="3460" dy="16">married 6/2/1929</tspan><tspan x="3460" dy="16">died 3/21/1988 in Oxnard,</tspan><tspan x="3460" dy="16">Ventura, CA</tspan></text></g>
<g id="garfield-sp"><rect class="w" x="3364" y="1512" width="192" height="72" rx="12"/><text x="3460" y="1520.5">Beulah Vanden Spencer<tspan x="3460" dy="16">born 7/20/1908 in Neponset,</tspan><tspan x="3460" dy="16">IL</tspan><tspan x="3460" dy="16">died 4/23/1995 in Oxnard,</tspan><tspan x="3460" dy="16">Ventura, CA</tspan></text></g>
<g id="georgeroy"><rect class="w" x="3364" y="1608" width="192" height="84"/><text x="3460" y="1622.5">George Merill Roy Sr.<tspan x="3460" dy="16">born 5/7/1903 in Dover, NH</tspan><tspan x="3460" dy="16">married 3/14/1933</tspan><tspan x="3460" dy="16">died 8/12/1968 in Los</tspan><tspan x="3460" dy="16">Angeles, CA</tspan></text></g>
<g id="georgeroy-sp"><rect class="w" x="3364" y="1692" width="192" height="72" rx="12"/><text x="3460" y="1716.5">Hazel McClellan<tspan x="3460" dy="16">born 11/7/1909 in (Mexico)</tspan><tspan x="3460" dy="16">Colonia Juarez</tspan></text></g>
<g id="charlesleroy"><rect class="w" x="3364" y="1800" width="192" height="48"/><text x="3460" y="1812.5">Charles Leroy Preston<tspan x="3460" dy="16">born 5/22/1920</tspan><tspan x="3460" dy="16">married 3/28/1843</tspan></text></g>
<g id="charlesleroy-sp"><rect class="w" x="3364" y="1848" width="192" height="48" rx="12"/><text x="3460" y="1860.5">Helene Marie Pike<tspan x="3460" dy="16">born 6/3/1924</tspan><tspan x="3460" dy="16">Died</tspan></text></g>
<g id="royg"><rect class="w" x="3364" y="1920" width="192" height="48"/><text x="3460" y="1932.5">Roy J. Gustafson<tspan x="3460" dy="16">married 6/3/1924</tspan><tspan x="3460" dy="16">died</tspan></text></g>
<g id="barbara"><rect class="w" x="3364" y="1968" width="192" height="48" rx="12"/><text x="3460" y="1988.5">Barbara Ruth Preston<tspan x="3460" dy="16">born 6/3/1924</tspan></text></g>
<g id="louishast"><rect class="w" x="3364" y="2040" width="192" height="48"/><text x="3460" y="2052.5">Louis Mohr Hast<tspan x="3460" dy="16">born</tspan><tspan x="3460" dy="16">married 11/10/1951</tspan></text></g>
<g id="elaine"><rect class="w" x="3364" y="2088" width="192" height="48" rx="12"/><text x="3460" y="2108.5">Elaine Ila Preston<tspan x="3460" dy="16">born 7/12/1928</tspan></text></g>
<g id="wayne"><rect class="w" x="3364" y="2160" width="192" height="48"/><text x="3460" y="2180.5">Wayne Howell<tspan x="3460" dy="16">married 9/25/1965</tspan></text></g>
<g id="helenkay"><rect class="w" x="3364" y="2208" width="192" height="48" rx="12"/><text x="3460" y="2228.5">Helen Kay Preston<tspan x="3460" dy="16">born 9/27/1940</tspan></text></g>

<g id="donclementy"><rect class="w" x="3628" y="1128" width="192" height="48"/><text x="3724" y="1148.5">Don Clementy<tspan x="3724" dy="16">Married April 12, 1947</tspan></text></g>
<g id="marilyn"><rect class="w" x="3628" y="1176" width="192" height="48" rx="12"/><text x="3724" y="1196.5">Marilyn Truedson<tspan x="3724" dy="16">born October 10, 1929</tspan></text></g>
<g id="duane"><rect class="w" x="3880" y="1176" width="192" height="48"/><text x="3976" y="1196.5">Duane Clementy<tspan x="3976" dy="16">married August 10, 1972</tspan></text></g>
<g id="kim"><rect class="w" x="3880" y="1224" width="192" height="48" rx="12"/><text x="3976" y="1252.5">Kim Man Sue</text></g>
<g id="robertlee"><rect class="w" x="3640" y="1560" width="192" height="60"/><text x="3736" y="1570.5">Robert Lee Preston<tspan x="3736" dy="16">born 7/30/1931 in Kewanee,</tspan><tspan x="3736" dy="16">IL</tspan><tspan x="3736" dy="16">married 2/30/1957</tspan></text></g>
<g id="hazelflorene"><rect class="w" x="3640" y="1620" width="192" height="48" rx="12"/><text x="3736" y="1640.5">Hazel Florene Roy<tspan x="3736" dy="16">born 2/21/1937 in Mesa, AZ</tspan></text></g>
<g id="henrydavid1968"><rect class="w" x="3892" y="1554" width="192" height="60"/><text x="3988" y="1572.5">Henry David Preston<tspan x="3988" dy="16">born 5/6/1968 in Glendale, CA</tspan><tspan x="3988" dy="16">married 9/4/1992</tspan></text></g>
<g id="henrydavid1968-sp"><rect class="w" x="3892" y="1614" width="192" height="48" rx="12"/></g>
<g id="louishast-lineage"><ellipse class="y" cx="3760" cy="2036" rx="61" ry="38"/><text x="3760" y="2024.5">To the Louis<tspan x="3760" dy="16">Hast Family</tspan><tspan x="3760" dy="16">lineage</tspan></text></g>
</svg>
